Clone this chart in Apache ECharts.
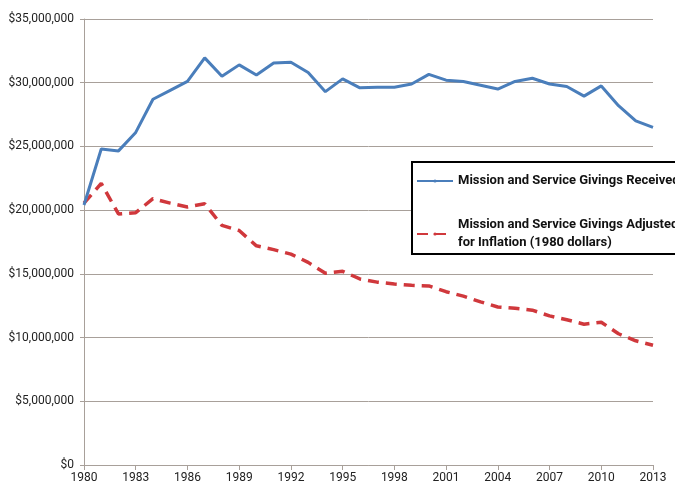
<!DOCTYPE html>
<html>
<head>
<meta charset="utf-8">
<script src="https://cdn.jsdelivr.net/npm/echarts@6/dist/echarts.min.js"></script>
<style>
  html, body { margin: 0; padding: 0; background: #fff; }
  #chart { width: 675px; height: 490px; }
</style>
</head>
<body>
<div id="chart"></div>
<script>
const years = []
for (let y = 1980; y <= 2013; y++) years.push(String(y))

// values in millions of dollars
const received = [
  20.4, 24.8, 24.65, 26.1, 28.7, 29.4, 30.1, 31.95, 30.5, 31.4,
  30.6, 31.55, 31.6, 30.8, 29.3, 30.3, 29.6, 29.65, 29.65, 29.9,
  30.65, 30.2, 30.1, 29.8, 29.5, 30.1, 30.35, 29.9, 29.7, 28.95,
  29.75, 28.2, 27.0, 26.5
].map(v => v * 1e6)

const adjusted = [
  20.55, 22.1, 19.7, 19.8, 20.9, 20.55, 20.25, 20.5, 18.8, 18.4,
  17.2, 16.9, 16.55, 15.9, 15.05, 15.2, 14.6, 14.35, 14.2, 14.1,
  14.05, 13.6, 13.25, 12.8, 12.4, 12.3, 12.15, 11.7, 11.4, 11.05,
  11.2, 10.3, 9.75, 9.4
].map(v => v * 1e6)

const font = 'Roboto, "Open Sans", sans-serif'
const gridColor = '#a8a09a'

const chart = echarts.init(document.getElementById('chart'))

const option = {
  animation: false,
  grid: { left: 84, right: 22, top: 19, bottom: 25, containLabel: false },
  xAxis: {
    type: 'category',
    data: years,
    boundaryGap: false,
    axisLine: { lineStyle: { color: gridColor, width: 1 } },
    axisTick: { show: true, interval: 2, length: 5, lineStyle: { color: gridColor } },
    axisLabel: { interval: 2, color: '#222', fontFamily: font, fontSize: 12, margin: 7 },
    splitLine: { show: false }
  },
  yAxis: {
    type: 'value',
    min: 0,
    max: 35000000,
    interval: 5000000,
    axisLine: { show: true, lineStyle: { color: gridColor } },
    axisTick: { show: true, length: 4, lineStyle: { color: gridColor } },
    axisLabel: {
      color: '#222', fontFamily: font, fontSize: 12, margin: 10,
      formatter: v => '$' + v.toLocaleString('en-US')
    },
    splitLine: { lineStyle: { color: gridColor, width: 1 } }
  },
  legend: {
    orient: 'vertical',
    left: 412,
    top: 162,
    backgroundColor: '#fff',
    borderColor: '#000',
    borderWidth: 2,
    padding: [10, 10, 2, 4],
    itemGap: 26,
    itemWidth: 36,
    itemHeight: 4,
    textStyle: { fontFamily: font, fontSize: 13, fontWeight: 'bold', color: '#111', lineHeight: 18 },
    data: [
      'Mission and Service Givings Received',
      'Mission and Service Givings Adjusted\nfor Inflation (1980 dollars)'
    ]
  },
  series: [
    {
      name: 'Mission and Service Givings Received',
      type: 'line',
      data: received,
      symbol: 'none',
      lineStyle: { color: '#4a7ebb', width: 3 },
      itemStyle: { color: '#4a7ebb' },
      z: 3
    },
    {
      name: 'Mission and Service Givings Adjusted\nfor Inflation (1980 dollars)',
      type: 'line',
      data: adjusted,
      symbol: 'none',
      lineStyle: { color: '#d0383c', width: 3.5, type: [11, 7] },
      itemStyle: { color: '#d0383c' },
      z: 2
    }
  ]
}

chart.setOption(option)
</script>
</body>
</html>
